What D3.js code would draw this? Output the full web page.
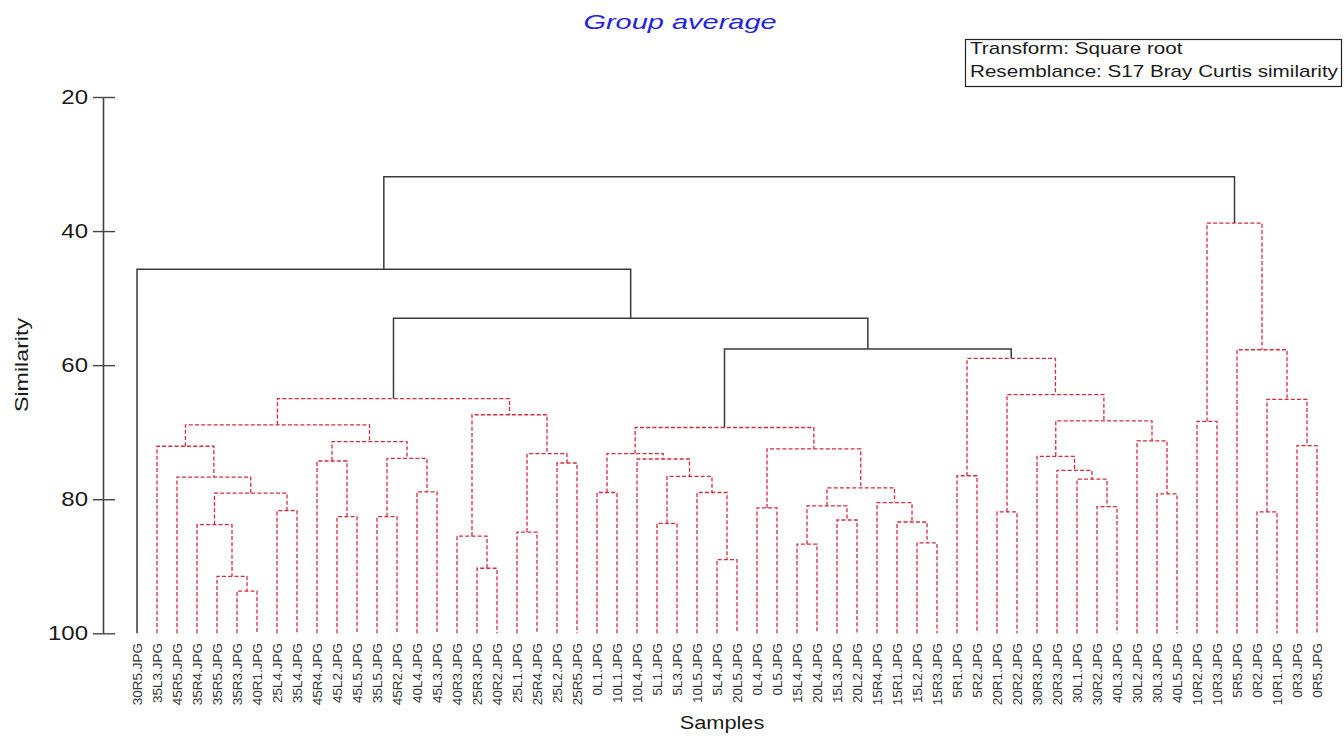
<!DOCTYPE html>
<html>
<head>
<meta charset="utf-8">
<script src="https://cdn.jsdelivr.net/npm/d3@7"></script>
<style>
  html, body { margin: 0; padding: 0; background: #fff; }
  svg { display: block; }
  text { font-family: "Liberation Sans", Arial, sans-serif; }
</style>
</head>
<body>
<svg id="chart" width="1344" height="738"></svg>
<script>
// Leaf order along the bottom of the dendrogram
const samples = [
  "30R5.JPG","35L3.JPG","45R5.JPG","35R4.JPG","35R5.JPG","35R3.JPG","40R1.JPG","25L4.JPG",
  "35L4.JPG","45R4.JPG","45L2.JPG","45L5.JPG","35L5.JPG","45R2.JPG","40L4.JPG","45L3.JPG",
  "40R3.JPG","25R3.JPG","40R2.JPG","25L1.JPG","25R4.JPG","25L2.JPG","25R5.JPG","0L1.JPG",
  "10L1.JPG","10L4.JPG","5L1.JPG","5L3.JPG","10L5.JPG","5L4.JPG","20L5.JPG","0L4.JPG",
  "0L5.JPG","15L4.JPG","20L4.JPG","15L3.JPG","20L2.JPG","15R4.JPG","15R1.JPG","15L2.JPG",
  "15R3.JPG","5R1.JPG","5R2.JPG","20R1.JPG","20R2.JPG","30R3.JPG","20R3.JPG","30L1.JPG",
  "30R2.JPG","40L3.JPG","30L2.JPG","30L3.JPG","40L5.JPG","10R2.JPG","10R3.JPG","5R5.JPG",
  "0R2.JPG","10R1.JPG","0R3.JPG","0R5.JPG"
];

// Agglomeration steps: [left, right, similarity]; a number points to an earlier step
const merges = [
  ["35R3.JPG","40R1.JPG",93.7],  // 0
  ["35R5.JPG",0,91.5],           // 1
  ["25R3.JPG","40R2.JPG",90.3],  // 2
  ["5L4.JPG","20L5.JPG",89.0],   // 3
  ["15L4.JPG","20L4.JPG",86.7],  // 4
  ["15L2.JPG","15R3.JPG",86.5],  // 5
  ["40R3.JPG",2,85.5],           // 6
  ["25L1.JPG","25R4.JPG",84.9],  // 7
  ["35R4.JPG",1,83.8],           // 8
  ["5L1.JPG","5L3.JPG",83.6],    // 9
  ["15R1.JPG",5,83.4],           // 10
  ["15L3.JPG","20L2.JPG",83.1],  // 11
  ["45L2.JPG","45L5.JPG",82.6],  // 12
  ["35L5.JPG","45R2.JPG",82.6],  // 13
  ["0R2.JPG","10R1.JPG",81.9],   // 14
  ["20R1.JPG","20R2.JPG",81.9],  // 15
  ["25L4.JPG","35L4.JPG",81.7],  // 16
  ["0L4.JPG","0L5.JPG",81.3],    // 17
  ["30R2.JPG","40L3.JPG",81.1],  // 18
  [4,11,81.0],                   // 19
  ["15R4.JPG",10,80.5],          // 20
  ["30L3.JPG","40L5.JPG",79.2],  // 21
  [8,16,79.1],                   // 22
  ["0L1.JPG","10L1.JPG",79.0],   // 23
  ["10L5.JPG",3,79.0],           // 24
  ["40L4.JPG","45L3.JPG",78.9],  // 25
  [19,20,78.3],                  // 26
  ["30L1.JPG",18,77.0],          // 27
  ["45R5.JPG",22,76.7],          // 28
  [9,24,76.6],                   // 29
  ["5R1.JPG","5R2.JPG",76.5],    // 30
  ["20R3.JPG",27,75.7],          // 31
  ["25L2.JPG","25R5.JPG",74.6],  // 32
  ["45R4.JPG",12,74.3],          // 33
  ["10L4.JPG",29,74.0],          // 34
  [13,25,73.9],                  // 35
  ["30R3.JPG",31,73.6],          // 36
  [23,34,73.2],                  // 37
  [7,32,73.2],                   // 38
  [17,26,72.5],                  // 39
  ["35L3.JPG",28,72.1],          // 40
  ["0R3.JPG","0R5.JPG",72.0],    // 41
  [33,35,71.4],                  // 42
  ["30L2.JPG",21,71.3],          // 43
  [37,39,69.3],                  // 44
  [40,42,68.9],                  // 45
  ["10R2.JPG","10R3.JPG",68.4],  // 46
  [36,43,68.3],                  // 47
  [6,38,67.4],                   // 48
  [14,41,65.1],                  // 49
  [45,48,65.0],                  // 50
  [15,47,64.4],                  // 51
  [30,51,59.0],                  // 52
  ["5R5.JPG",49,57.7],           // 53
  [44,52,57.6],                  // 54
  [50,54,53.0],                  // 55
  ["30R5.JPG",55,45.7],          // 56
  [46,53,38.8],                  // 57
  [56,57,31.9]                   // 58
];

// Steps whose groups differ significantly: drawn solid black, the rest dashed red
const solidMerges = [54, 55, 56, 58];

const yTicks = [20, 40, 60, 80, 100];
const titleText = "Group average";
const legendLines = ["Transform: Square root", "Resemblance: S17 Bray Curtis similarity"];
const yTitle = "Similarity";
const xTitle = "Samples";

const svg = d3.select("#chart");

const x = d3.scalePoint().domain(samples).range([137, 1317]);
const y = d3.scaleLinear().domain([20, 100]).range([97, 633.3]);

// Build the node tree from the merge list
const leafNode = name => ({ name, sim: 100, x: x(name) });
const nodes = [];
merges.forEach(([a, b, sim], i) => {
  const kids = [a, b].map(c => typeof c === "number" ? nodes[c] : leafNode(c));
  nodes.push({ id: i, sim, children: kids, x: d3.mean(kids, k => k.x), solid: solidMerges.includes(i) });
});

// Dendrogram links: one inverted U per merge
const linkG = svg.append("g").attr("fill", "none");
const ordered = nodes.slice().sort((p, q) => (p.solid - q.solid));
linkG.selectAll("path")
  .data(ordered)
  .join("path")
  .attr("d", n => {
    const [l, r] = n.children;
    return `M${l.x},${y(l.sim)}V${y(n.sim)}H${r.x}V${y(r.sim)}`;
  })
  .attr("stroke", n => n.solid ? "#3a3a3a" : "#d42a3c")
  .attr("stroke-width", n => n.solid ? 1.5 : 1.3)
  .attr("stroke-dasharray", n => n.solid ? null : "4,2.2");

// Y axis with ticks crossing the axis line
const axisG = svg.append("g")
  .attr("transform", "translate(103,0)")
  .call(d3.axisLeft(y).tickValues(yTicks).tickSizeInner(10).tickSizeOuter(0).tickFormat(d3.format("d")));
axisG.select(".domain").attr("stroke", "#444").attr("stroke-width", 1.6);
axisG.selectAll(".tick line").attr("stroke", "#444").attr("stroke-width", 1.4);
axisG.selectAll(".tick").append("line")
  .attr("x1", 0).attr("x2", 12).attr("stroke", "#444").attr("stroke-width", 1.4);
axisG.selectAll(".tick text")
  .attr("x", null)
  .attr("transform", "translate(-15,0) scale(1.2,1)")
  .attr("fill", "#1a1a1a")
  .style("font-size", "20px")
  .style("font-family", "'Liberation Sans', Arial, sans-serif");

// Sample labels under each leaf
svg.append("g").selectAll("text")
  .data(samples)
  .join("text")
  .attr("transform", d => `translate(${x(d)},643) rotate(-90)`)
  .attr("dy", "0.36em")
  .attr("text-anchor", "end")
  .attr("fill", "#333")
  .style("font-size", "13.5px")
  .text(d => d);

// Axis titles
svg.append("text")
  .attr("transform", "translate(22,365) rotate(-90) scale(1.29,1)")
  .attr("dy", "0.35em")
  .attr("text-anchor", "middle")
  .attr("fill", "#1a1a1a")
  .style("font-size", "18px")
  .text(yTitle);

svg.append("text")
  .attr("transform", "translate(722,729) scale(1.21,1)")
  .attr("text-anchor", "middle")
  .attr("fill", "#1a1a1a")
  .style("font-size", "18px")
  .text(xTitle);

// Title
svg.append("text")
  .attr("transform", "translate(680,29) scale(1.38,1)")
  .attr("text-anchor", "middle")
  .attr("fill", "#2424e0")
  .style("font-size", "21px")
  .style("font-style", "italic")
  .text(titleText);

// Legend box
const lg = svg.append("g");
lg.append("rect")
  .attr("x", 965.5).attr("y", 39.5).attr("width", 376).attr("height", 47)
  .attr("fill", "#fff").attr("stroke", "#222").attr("stroke-width", 1.2);
lg.selectAll("text")
  .data(legendLines)
  .join("text")
  .attr("transform", (d, i) => `translate(970,${54 + i * 23}) scale(1.29,1)`)
  .attr("fill", "#1a1a1a")
  .style("font-size", "16px")
  .text(d => d);
</script>
</body>
</html>
